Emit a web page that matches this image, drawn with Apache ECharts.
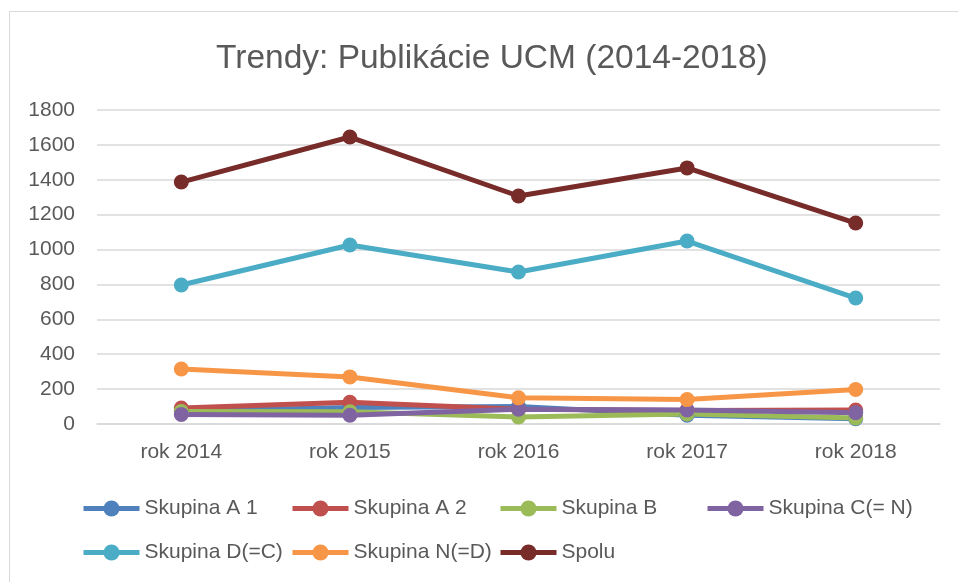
<!DOCTYPE html>
<html>
<head>
<meta charset="utf-8">
<script src="https://cdn.jsdelivr.net/npm/echarts@6/dist/echarts.min.js"></script>
<style>
  html, body { margin: 0; padding: 0; background: #fff; overflow: hidden; }
  #wrap { position: relative; width: 958px; height: 582px; }
  #frame { position: absolute; left: 9px; top: 11px; width: 1000px; height: 650px; border: 1px solid #d9d9d9; box-sizing: border-box; }
  #chart { position: absolute; left: 0; top: 0; width: 958px; height: 582px; }
</style>
</head>
<body>
<div id="wrap">
  <div id="frame"></div>
  <div id="chart"></div>
</div>
<script>
// roky a hodnoty odčítané z grafu
const years = ['rok 2014', 'rok 2015', 'rok 2016', 'rok 2017', 'rok 2018']
const skupinaA1 = [75, 95, 100, 50, 30]
const skupinaA2 = [92, 125, 85, 78, 80]
const skupinaB = [72, 70, 40, 58, 35]
const skupinaC = [55, 50, 85, 80, 65]
const skupinaD = [797, 1026, 871, 1049, 722]
const skupinaN = [315, 270, 150, 140, 198]
const spolu = [1387, 1645, 1307, 1468, 1152]

const names = ['Skupina A 1', 'Skupina A 2', 'Skupina B', 'Skupina C(= N)', 'Skupina D(=C)', 'Skupina N(=D)', 'Spolu']
const values = [skupinaA1, skupinaA2, skupinaB, skupinaC, skupinaD, skupinaN, spolu]
const colors = ['#4f81bd', '#c0504d', '#9bbb59', '#8064a2', '#4bacc6', '#f79646', '#772c2a']

const txt = '#595959'
const font = '"Liberation Sans", Arial, sans-serif'

let chart = echarts.init(document.getElementById('chart'))

// legenda v stĺpcoch ako v Exceli - každá položka zvlášť
const colX = [81, 290, 498, 705]
const rowY = [498, 542]
const legends = names.map((n, i) => ({
  left: colX[i % 4],
  top: rowY[Math.floor(i / 4)],
  padding: 0,
  itemWidth: 56,
  itemHeight: 20,
  data: [n],
  lineStyle: { width: 5 },
  textStyle: { color: txt, fontSize: 21, fontFamily: font }
}))

chart.setOption({
  animation: false,
  color: colors,
  title: {
    text: 'Trendy: Publikácie UCM (2014-2018)',
    left: 211,
    top: 37,
    textStyle: { color: txt, fontSize: 33.5, fontWeight: 'normal', fontFamily: font }
  },
  grid: { left: 97, right: 18, top: 110, bottom: 158 },
  legend: legends,
  xAxis: {
    type: 'category',
    data: years,
    boundaryGap: true,
    axisLine: { lineStyle: { color: '#d9d9d9', width: 1.5 } },
    axisTick: { show: false },
    axisLabel: { color: txt, fontSize: 21, fontFamily: font, margin: 18 }
  },
  yAxis: {
    type: 'value',
    min: 0,
    max: 1800,
    interval: 200,
    axisLine: { show: false },
    axisTick: { show: false },
    axisLabel: { color: txt, fontSize: 21, fontFamily: font, margin: 22, formatter: v => String(v) },
    splitLine: { lineStyle: { color: '#d9d9d9', width: 1.5 } }
  },
  series: names.map((n, i) => ({
    name: n,
    type: 'line',
    data: values[i],
    symbol: 'circle',
    symbolSize: 15,
    lineStyle: { width: 5 },
    itemStyle: { color: colors[i] }
  }))
})
</script>
</body>
</html>
